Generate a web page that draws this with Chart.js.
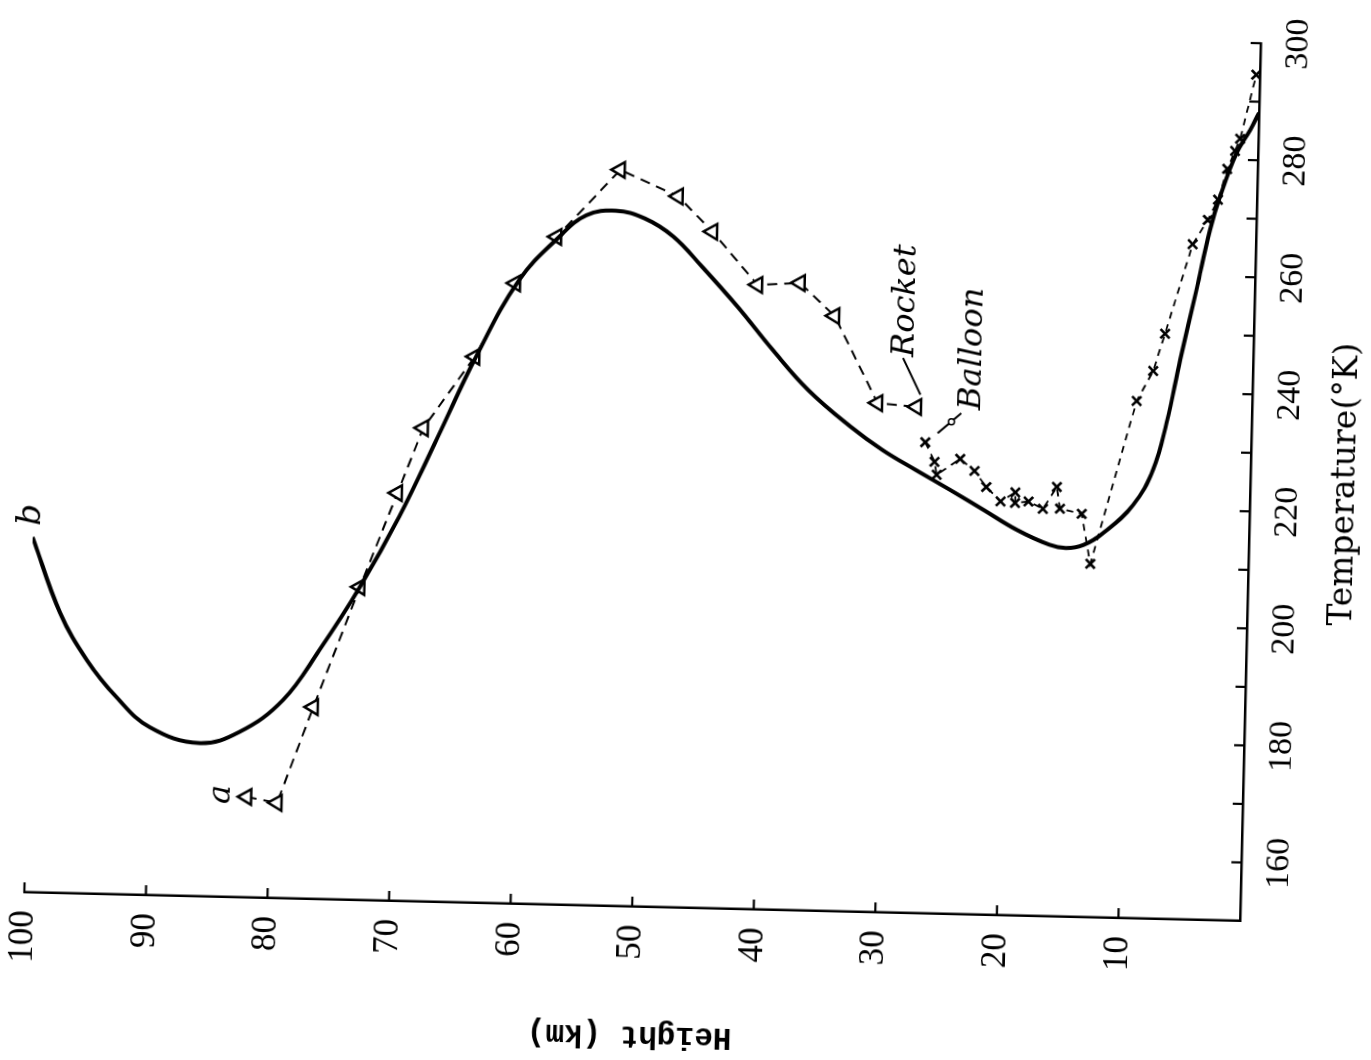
<!DOCTYPE html>
<html>
<head>
<meta charset="utf-8">
<script src="https://cdn.jsdelivr.net/npm/chart.js@4.4.1/dist/chart.umd.min.js"></script>
<style>
  html, body { margin: 0; padding: 0; background: #fff; overflow: hidden; width: 1371px; height: 1060px; }
  #wrap { position: absolute; left: 0; top: 0; width: 1090px; height: 1364px;
          transform-origin: 0 0; transform: translate(-9.2px, 1041.6px) rotate(-88.65deg); }
  canvas { display: block; }
</style>
</head>
<body>
<div id="wrap"><canvas id="c" width="1090" height="1364" style="width:1090px;height:1364px"></canvas></div>
<script>
// ---- data (Height in km, Temperature in K) ----
const curveB_H = [100.0, 97.6, 95.3, 92.8, 90.0, 85.9, 82.6, 79.1, 76.2, 73.0, 69.9, 66.9, 63.9, 60.5, 57.3, 55.1, 52.7, 50.3, 47.9, 45.5, 42.5, 39.5, 36.5, 33.0, 30.3, 27.5, 24.7, 21.9, 19.1, 16.4, 15.0, 13.6, 12.0, 9.6, 8.0, 7.0, 6.0, 4.8, 3.8, 3.05, 1.76, 0.7, 0];
const curveB_T = [210.7, 197.9, 189.9, 183.7, 178.7, 176.2, 178.3, 183.9, 192.6, 203.5, 215.7, 229.4, 243.3, 256.6, 264.1, 267.9, 268.8, 267.6, 264.6, 259.6, 252.9, 245.6, 238.9, 232.9, 229.0, 225.7, 222.5, 219.2, 215.9, 213.5, 213.0, 213.6, 215.7, 220.6, 226.8, 234.8, 245.6, 257.6, 267.9, 273.6, 281.2, 285.1, 288.1];

const rocket_H = [81.9, 79.4, 76.6, 73.0, 70.1, 68.1, 64.0, 60.8, 57.5, 52.4, 47.6, 44.7, 40.9, 37.4, 34.5, 30.8, 27.6];
const rocket_T = [167.2, 166.3, 182.8, 203.5, 219.7, 230.9, 243.3, 256.0, 264.1, 275.8, 271.5, 265.6, 256.7, 257.2, 251.7, 237.0, 236.5];

const balloon_H = [26.8, 26.0, 25.8, 23.9, 22.7, 21.7, 20.5, 19.3, 19.3, 18.2, 17.0, 15.9, 15.6, 13.8, 13.0, 9.5, 8.2, 7.3, 5.2, 4.0, 3.2, 2.5, 1.9, 1.5, 0.3];
const balloon_T = [230.5, 227.2, 225.0, 227.8, 225.8, 223.1, 220.7, 222.3, 220.5, 220.8, 219.6, 223.4, 219.7, 218.9, 210.4, 238.4, 243.6, 250.0, 265.4, 269.6, 273.1, 278.4, 281.5, 283.6, 294.6];

const tempTickLabels = [160, 180, 200, 220, 240, 260, 280, 300];
const tempTickMarks = [160, 170, 180, 190, 200, 210, 220, 230, 240, 250, 260, 270, 280, 290, 300];
const heightTickLabels = [10, 20, 30, 40, 50, 60, 70, 80, 90, 100];

// annotation texts (anchored in data units: T, H)
const labels = [
  { text: 'b', T: 214.5, H: 99.4, align: 'center', size: 34 },
  { text: 'a', T: 167.5, H: 83.3, align: 'center', size: 32 },
  { text: 'Rocket', T: 245.0, H: 28.0, align: 'left', size: 32 },
  { text: 'Balloon', T: 236.2, H: 22.4, align: 'left', size: 32 }
];
const leaders = [
  { T1: 238.6, H1: 27.3, T2: 244.8, H2: 28.8 },
  { T1: 232.1, H1: 25.8, T2: 235.6, H2: 23.9 }
];

const toXY = (H, T) => H.map((h, i) => ({ x: T[i], y: h }));

const extras = {
  id: 'extras',
  afterDraw(chart) {
    const { ctx, scales: { x, y } } = chart;
    ctx.save();
    ctx.strokeStyle = '#000';
    ctx.lineWidth = 2.2;
    const B = y.getPixelForValue(0), L = x.getPixelForValue(150);
    tempTickMarks.forEach(v => {
      const px = x.getPixelForValue(v);
      ctx.beginPath(); ctx.moveTo(px, B); ctx.lineTo(px, B - 10); ctx.stroke();
    });
    heightTickLabels.forEach(v => {
      const py = y.getPixelForValue(v);
      ctx.beginPath(); ctx.moveTo(L, py); ctx.lineTo(L + 10, py); ctx.stroke();
    });
    // leader lines
    ctx.lineWidth = 2;
    leaders.forEach(l => {
      ctx.beginPath();
      ctx.moveTo(x.getPixelForValue(l.T1), y.getPixelForValue(l.H1));
      ctx.lineTo(x.getPixelForValue(l.T2), y.getPixelForValue(l.H2));
      ctx.stroke();
    });
    ctx.beginPath();
    ctx.arc(x.getPixelForValue(234.1), y.getPixelForValue(24.7), 3, 0, Math.PI * 2);
    ctx.fillStyle = '#fff'; ctx.fill(); ctx.lineWidth = 1.5; ctx.stroke();
    // texts
    ctx.fillStyle = '#000';
    ctx.textBaseline = 'alphabetic';
    labels.forEach(t => {
      ctx.font = 'italic ' + t.size + 'px "DejaVu Serif"';
      ctx.textAlign = t.align;
      ctx.fillText(t.text, x.getPixelForValue(t.T), y.getPixelForValue(t.H));
    });
    ctx.restore();
  }
};

new Chart(document.getElementById('c'), {
  type: 'scatter',
  data: {
    datasets: [
      { label: 'b', data: toXY(curveB_H, curveB_T), showLine: true, tension: 0.4,
        borderColor: '#000', borderWidth: 4, pointRadius: 0, fill: false },
      { label: 'Rocket', data: toXY(rocket_H, rocket_T), showLine: true, tension: 0,
        borderColor: '#000', borderWidth: 2, borderDash: [10, 7],
        pointStyle: 'triangle', pointRadius: 9, pointBorderWidth: 2.5,
        pointBackgroundColor: '#fff', pointBorderColor: '#000' },
      { label: 'Balloon', data: toXY(balloon_H, balloon_T), showLine: true, tension: 0,
        borderColor: '#000', borderWidth: 1.8, borderDash: [7, 6],
        pointStyle: 'crossRot', pointRadius: 6.5, pointBorderWidth: 2.6,
        pointBorderColor: '#000', pointBackgroundColor: '#000' }
    ]
  },
  options: {
    responsive: false,
    animation: false,
    devicePixelRatio: 1,
    layout: { padding: { left: 0, top: 30, right: 62, bottom: 0 } },
    plugins: { legend: { display: false }, tooltip: { enabled: false } },
    scales: {
      x: {
        type: 'linear', position: 'bottom', min: 150, max: 300,
        ticks: { stepSize: 10, autoSkip: false, maxRotation: 0, minRotation: 0, padding: 18, color: '#000',
          font: { family: 'Liberation Serif', size: 34 },
          callback: v => tempTickLabels.includes(v) ? String(v) : '' },
        grid: { display: true, drawOnChartArea: false, drawTicks: false },
        border: { display: true, color: '#000', width: 2.5 },
        title: { display: true, text: 'Temperature(°K)', color: '#000',
          font: { family: 'DejaVu Serif', size: 33 }, padding: { top: 0, bottom: 3 } },
        afterFit: s => { s.height = 118; s.paddingLeft = 0; s.paddingRight = 0; }
      },
      y: {
        type: 'linear', position: 'left', min: 0, max: 100,
        ticks: { stepSize: 10, autoSkip: false, padding: 18, color: '#000',
          font: { family: 'Liberation Serif', size: 35 },
          callback: v => heightTickLabels.includes(v) ? String(v) : '' },
        grid: { display: true, drawOnChartArea: false, drawTicks: false },
        border: { display: true, color: '#000', width: 2.5 },
        title: { display: true, text: 'Height (km)', color: '#000',
          font: { family: 'Liberation Mono', size: 31, weight: 'bold' }, padding: { top: 4, bottom: 0 } },
        afterFit: s => { s.width = 150; s.paddingTop = 0; s.paddingBottom = 0; }
      }
    }
  },
  plugins: [extras]
});
</script>
</body>
</html>
